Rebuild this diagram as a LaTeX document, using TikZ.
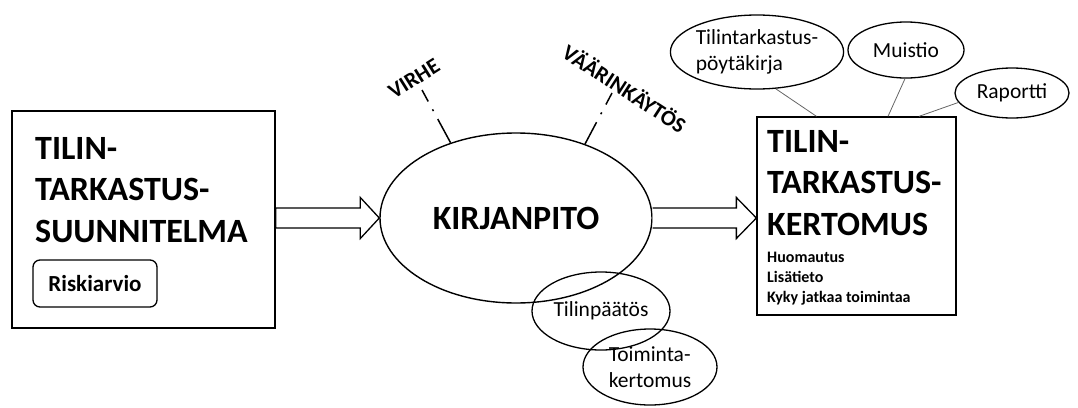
\documentclass[tikz,border=0pt]{standalone}
\usepackage{fontspec}
\setmainfont{Carlito}
\usetikzlibrary{shapes.geometric,calc}

\tikzset{
  frame/.style={draw, line width=1.3pt, rectangle, inner sep=0pt},
  bigtitle/.style={font=\fontsize{34}{41.5}\selectfont\bfseries, align=left, inner sep=0pt},
  smallbold/.style={font=\fontsize{16}{20}\selectfont\bfseries, align=left, inner sep=0pt},
  tag/.style={draw, line width=1.3pt, rounded corners=7pt, inner sep=0pt,
    font=\fontsize{23}{28}\selectfont\bfseries},
  bigoval/.style={draw, ellipse, line width=1.4pt, inner sep=0pt,
    font=\fontsize{34}{41}\selectfont\bfseries},
  oval/.style={draw, ellipse, line width=1.3pt, inner sep=0pt,
    font=\fontsize{21.5}{26}\selectfont, align=left},
  risk/.style={font=\fontsize{22}{26}\selectfont\bfseries, inner sep=0pt},
  link/.style={draw=black!60, line width=0.8pt},
  dashdot/.style={line width=1.5pt, dash pattern=on 13pt off 9pt on 2pt off 9pt on 40pt},
  blockarrow/.style={draw, line width=1.3pt, fill=white, line join=miter}
}

\begin{document}
\begin{tikzpicture}[x=1pt, y=-1pt]
\useasboundingbox (0,0) rectangle (1078,407);

% audit plan
\node[frame, minimum width=263pt, minimum height=217pt] (plan) at (143.5,219.5) {};
\node[bigtitle, anchor=base west] (plantitle) at (35,242) {TILIN-\\TARKASTUS-\\SUUNNITELMA};
\node[tag, minimum width=124pt, minimum height=47pt] (riski) at (95,283.5) {Riskiarvio};

% bookkeeping
\node[bigoval, minimum width=272pt, minimum height=170pt] (kirj) at (516,218) {KIRJANPITO};

% audit report
\node[frame, minimum width=199pt, minimum height=198pt] (report) at (856.5,216) {};
\node[bigtitle, anchor=base west] (reporttitle) at (767,235) {TILIN-\\TARKASTUS-\\KERTOMUS};
\node[smallbold, anchor=base west] (reportnotes) at (767,302) {Huomautus\\Lisätieto\\Kyky jatkaa toimintaa};

% block arrows
\draw[blockarrow] (plan.east |- 0,208) -- ($(kirj.west)+(-19,-10)$) -- ($(kirj.west)+(-19,-20.5)$)
  -- (kirj.west) -- ($(kirj.west)+(-19,20.5)$) -- ($(kirj.west)+(-19,10)$) -- (plan.east |- 0,228) -- cycle;
\draw[blockarrow] ($(kirj.east)+(0,-10)$) -- ($(report.west |- kirj.east)+(-20,-10)$)
  -- ($(report.west |- kirj.east)+(-20,-20.5)$) -- (report.west |- kirj.east)
  -- ($(report.west |- kirj.east)+(-20,20.5)$) -- ($(report.west |- kirj.east)+(-20,10)$)
  -- ($(kirj.east)+(0,10)$);

% risks
\node[risk, rotate=32] (virhe) at (414,79) {VIRHE};
\node[risk, rotate=-33] (vaarink) at (625,88) {VÄÄRINKÄYTÖS};
\coordinate (virhefoot) at (422,90);
\coordinate (vaarinkfoot) at (612,93);
\draw[dashdot] (virhefoot) -- (kirj.131);
\draw[dashdot] (vaarinkfoot) -- (kirj.47);

% financial statements
\node[oval, minimum width=138pt, minimum height=78pt, align=center] (tp) at (601,311) {Tilinpäätös};
\node[oval, minimum width=134pt, minimum height=76pt] (tk) at (650,367) {Toiminta-\\kertomus};

% other reporting
\node[oval, minimum width=154pt, minimum height=74pt] (pk) at (757,52) {Tilintarkastus-\\pöytäkirja};
\node[oval, minimum width=116pt, minimum height=56pt] (muistio) at (906,50) {Muistio};
\node[oval, minimum width=114pt, minimum height=50pt] (raportti) at (1012,93) {Raportti};
\draw[link] (pk.-63) -- ($(report.north)+(-40,0)$);
\draw[link] (muistio.-92) -- ($(report.north)+(31.5,0)$);
\draw[link] (raportti.190) -- ($(report.north)+(62.5,0)$);
\end{tikzpicture}
\end{document}
